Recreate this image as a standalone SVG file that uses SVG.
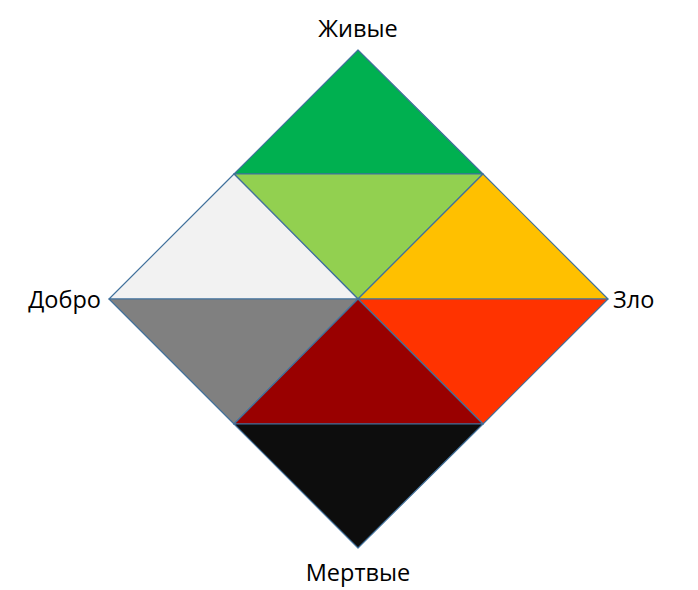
<svg xmlns="http://www.w3.org/2000/svg" width="698" height="590" viewBox="0 0 698 590">
<style>
.t{stroke:#41719C;stroke-width:1.2;stroke-linejoin:round}
.lbl{font-family:"Open Sans","Noto Sans","Liberation Sans",sans-serif;font-size:23.5px;fill:#000}
</style>
<rect width="698" height="590" fill="#fff"/>
<g id="connectors"></g>
<g id="tri-top"><polygon class="t" fill="#00B050" points="358,50 234,174 483,174"/></g>
<g id="tri-lightgreen"><polygon class="t" fill="#92D050" points="234,174 483,174 358,299"/></g>
<g id="tri-white"><polygon class="t" fill="#F2F2F2" points="234,174 109,299 358,299"/></g>
<g id="tri-yellow"><polygon class="t" fill="#FFC000" points="483,174 358,299 608,299"/></g>
<g id="tri-grey"><polygon class="t" fill="#808080" points="109,299 358,299 234,424"/></g>
<g id="tri-orange"><polygon class="t" fill="#FF3300" points="358,299 608,299 483,424"/></g>
<g id="tri-darkred"><polygon class="t" fill="#990000" points="358,299 234,424 483,424"/></g>
<g id="tri-black"><polygon class="t" fill="#0D0D0D" points="234,424 483,424 358,548"/></g>
<g id="labels">
<text class="lbl" x="358" y="37" text-anchor="middle">Живые</text>
<text class="lbl" x="101" y="308" text-anchor="end">Добро</text>
<text class="lbl" x="613" y="308">Зло</text>
<text class="lbl" x="358" y="581" text-anchor="middle">Мертвые</text>
</g>
</svg>
